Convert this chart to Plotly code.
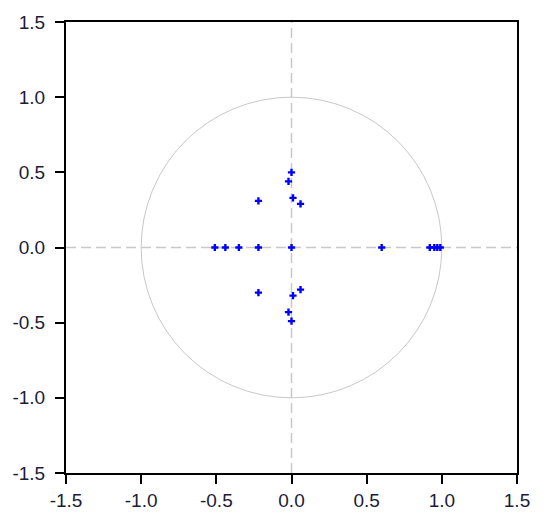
import plotly.graph_objects as go

root_re = [-0.51, -0.44, -0.35, -0.22, 0.00, 0.60, 0.92, 0.95, 0.97, 0.99,
           -0.22, -0.22, 0.06, 0.06, 0.01, 0.01, -0.02, -0.02, 0.00, 0.00]
root_im = [0.00, 0.00, 0.00, 0.00, 0.00, 0.00, 0.00, 0.00, 0.00, 0.00,
           0.31, -0.30, 0.29, -0.28, 0.33, -0.32, 0.44, -0.43, 0.50, -0.49]

tick_vals = [-1.5, -1.0, -0.5, 0.0, 0.5, 1.0, 1.5]
tick_text = ["-1.5", "-1.0", "-0.5", "0.0", "0.5", "1.0", "1.5"]

colors = {
    'points': '#0000FF',
    'guide': '#C8C8C8',
    'axis': '#000000',
    'text': '#1c1c38',
}

fig = go.Figure()
fig.add_trace(go.Scatter(x=root_re, y=root_im, mode='markers',
                         marker=dict(symbol='cross', size=6, color=colors['points'],
                                     line=dict(width=0)),
                         showlegend=False, hoverinfo='x+y'))

# unit circle and dashed zero lines
fig.add_shape(type='circle', xref='x', yref='y', x0=-1, y0=-1, x1=1, y1=1,
              line=dict(color=colors['guide'], width=1), layer='below')
fig.add_shape(type='line', xref='x', yref='y', x0=-1.5, x1=1.5, y0=0, y1=0,
              line=dict(color=colors['guide'], width=1.5, dash='10px,5px'), layer='below')
fig.add_shape(type='line', xref='x', yref='y', x0=0, x1=0, y0=-1.5, y1=1.5,
              line=dict(color=colors['guide'], width=1.5, dash='10px,5px'), layer='below')

axis_style = dict(range=[-1.5, 1.5], tickvals=tick_vals, ticktext=tick_text,
                  showgrid=False, zeroline=False, showline=True, mirror=True,
                  linecolor=colors['axis'], linewidth=2, ticks='outside', ticklen=9,
                  tickwidth=2, tickcolor=colors['axis'], automargin=False,
                  tickfont=dict(family='Liberation Sans, Arial', size=19, color=colors['text']))

fig.update_layout(
    width=550, height=522,
    margin=dict(l=58, r=41, t=14, b=57, autoexpand=False),
    plot_bgcolor='white', paper_bgcolor='white',
    xaxis=dict(axis_style, ticklabelstandoff=0),
    yaxis=dict(axis_style, ticklabelstandoff=6),
)

fig.write_html("out.html")
